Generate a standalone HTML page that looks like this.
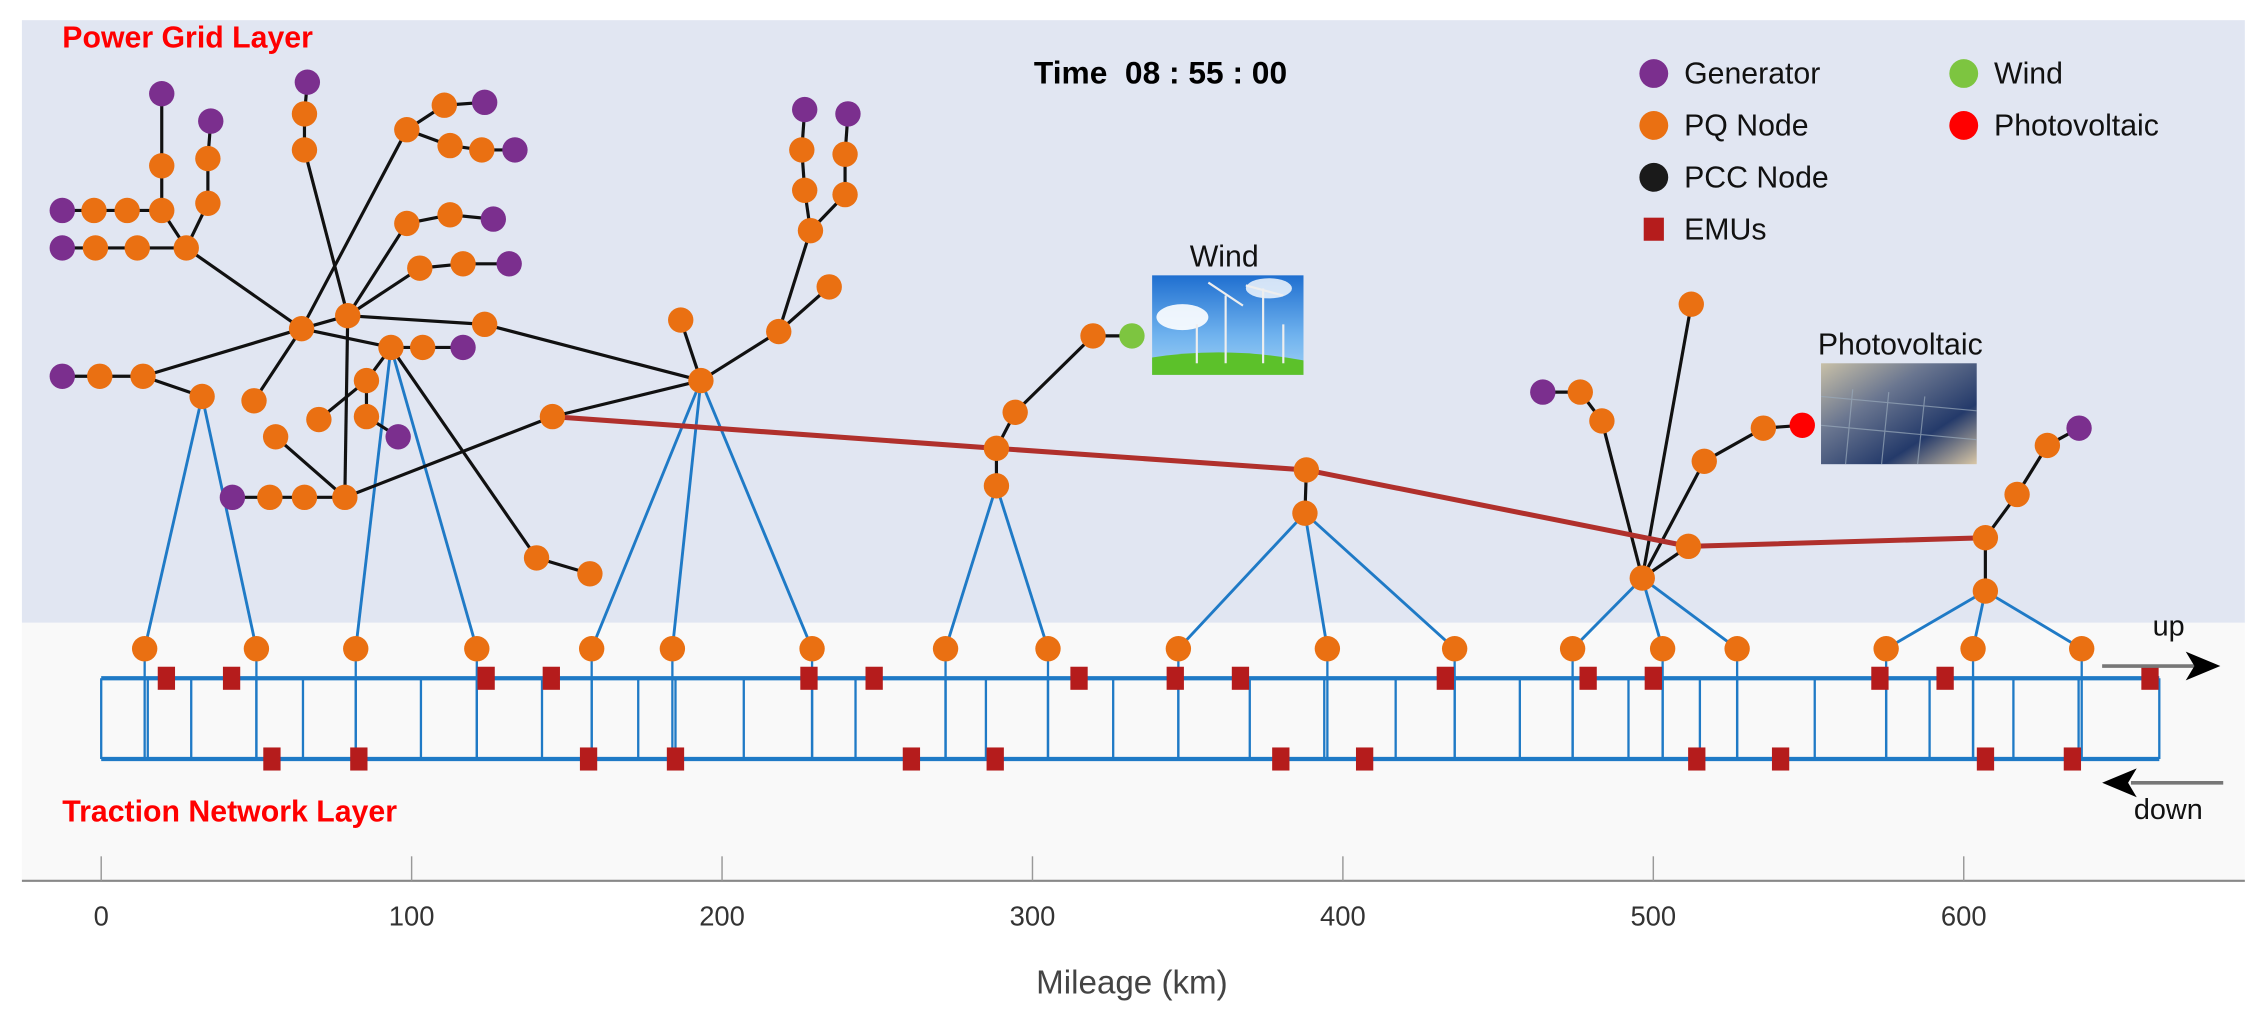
<!DOCTYPE html>
<html><head><meta charset="utf-8"><style>
html,body{margin:0;padding:0;background:#fff;}
svg{display:block;}
text{font-family:"Liberation Sans",sans-serif;}
</style></head><body>
<svg id="chart" width="2261" height="1012" viewBox="0 0 1568 702" xmlns="http://www.w3.org/2000/svg">
<defs>
<linearGradient id="sky" x1="0" y1="0" x2="0" y2="1"><stop offset="0" stop-color="#1f6fd0"/><stop offset="0.6" stop-color="#6fb2ee"/><stop offset="1" stop-color="#9fd0f5"/></linearGradient>
<linearGradient id="pv" x1="0" y1="0" x2="1" y2="1"><stop offset="0" stop-color="#c8c0a8"/><stop offset="0.35" stop-color="#6a7690"/><stop offset="0.7" stop-color="#243a6a"/><stop offset="1" stop-color="#d9c7a6"/></linearGradient>
</defs>
<rect x="15" y="14" width="1542" height="418" fill="#e1e6f2"/>
<rect x="15" y="432" width="1542" height="180" fill="#f9f9f9"/>
<line x1="15" y1="611" x2="1557" y2="611" stroke="#888" stroke-width="1.5"/>
<g id="ticks"></g>
<text x="785" y="689" font-size="23" fill="#444" text-anchor="middle">Mileage (km)</text>
<g id="rails"></g>
<g id="grid"></g>
<g id="emus"></g>
<g>
<rect x="799" y="191" width="105" height="69" fill="url(#sky)"/>
<ellipse cx="820" cy="220" rx="18" ry="9" fill="#fff" opacity="0.9"/><ellipse cx="880" cy="200" rx="16" ry="7" fill="#fff" opacity="0.8"/>
<path d="M799 248 Q850 240 904 250 L904 260 L799 260Z" fill="#5cc12a"/>
<g stroke="#eee" stroke-width="1.5"><line x1="850" y1="205" x2="850" y2="252"/><line x1="876" y1="200" x2="876" y2="252"/><line x1="830" y1="225" x2="830" y2="252"/><line x1="890" y1="225" x2="890" y2="252"/><line x1="838" y1="196" x2="862" y2="212"/><line x1="864" y1="198" x2="890" y2="205"/></g>
</g>
<text x="849" y="185" font-size="21" fill="#111" text-anchor="middle">Wind</text>
<g>
<rect x="1263" y="252" width="108" height="70" fill="url(#pv)"/>
<g stroke="#9ab" stroke-width="0.8" opacity="0.7"><line x1="1263" y1="275" x2="1371" y2="285"/><line x1="1263" y1="295" x2="1371" y2="305"/><line x1="1285" y1="270" x2="1280" y2="322"/><line x1="1310" y1="272" x2="1305" y2="322"/><line x1="1335" y1="275" x2="1330" y2="322"/></g>
</g>
<text x="1318" y="246" font-size="21" fill="#111" text-anchor="middle">Photovoltaic</text>
<text x="43" y="33" font-size="21" font-weight="bold" fill="#f00">Power Grid Layer</text>
<text x="43" y="570" font-size="21" font-weight="bold" fill="#f00">Traction Network Layer</text>
<text x="717" y="58" font-size="22" font-weight="bold" fill="#000" xml:space="preserve">Time  08 : 55 : 00</text>
<g>
<circle cx="1147" cy="51" r="10" fill="#7b2f8e"/>
<text x="1168" y="58" font-size="21" fill="#111">Generator</text>
<circle cx="1147" cy="87" r="10" fill="#ea7012"/>
<text x="1168" y="94" font-size="21" fill="#111">PQ Node</text>
<circle cx="1147" cy="123" r="10" fill="#1a1a1a"/>
<text x="1168" y="130" font-size="21" fill="#111">PCC Node</text>
<rect x="1140" y="151" width="14" height="16" fill="#b51c1c"/>
<text x="1168" y="166" font-size="21" fill="#111">EMUs</text>
<circle cx="1362" cy="51" r="10" fill="#7dc540"/>
<text x="1383" y="58" font-size="21" fill="#111">Wind</text>
<circle cx="1362" cy="87" r="10" fill="#f00"/>
<text x="1383" y="94" font-size="21" fill="#111">Photovoltaic</text>
</g>
<g>
<text x="1493" y="441" font-size="20" fill="#111">up</text>
<line x1="1458" y1="462" x2="1522" y2="462" stroke="#777" stroke-width="2.5"/>
<path d="M1540 462 L1516 452 L1522 462 L1516 472Z" fill="#000"/>
<line x1="1478" y1="543" x2="1542" y2="543" stroke="#777" stroke-width="2.5"/>
<path d="M1458 543 L1482 533 L1476 543 L1482 553Z" fill="#000"/>
<text x="1480" y="568" font-size="20" fill="#111">down</text>
</g>
</svg>
<script>
const tickValues = [0,100,200,300,400,500,600];
const tickLabels = ["0","100","200","300","400","500","600"];
const railEnds = [0, 663];
const sectionKm = [0,15,29,50,65,82,103,121,142,158,173,185,207,229,243,272,285,305,326,347,370,394,417,436,457,474,492,503,515,527,552,575,589,603,616,637,663];
const tractionNodeKm = [14,50,82,121,158,184,229,272,305,347,395,436,474,503,527,575,603,638];
const emuUpKm = [21,42,124,145,228,249,315,346,367,433,479,500,573,594,660];
const emuDownKm = [55,83,157,185,261,288,380,407,514,541,607,635];
const X0=70, PX_PER_KM=(1362-70)/600;
function xs(km){return X0+km*PX_PER_KM;}
const NS="http://www.w3.org/2000/svg";
function mk(parent,tag,attrs){const e=document.createElementNS(NS,tag);for(const k in attrs)e.setAttribute(k,attrs[k]);parent.appendChild(e);return e;}
const tg=document.getElementById('ticks');
tickValues.forEach((v,i)=>{
  const l=mk(tg,'line',{x1:xs(v),x2:xs(v),y1:594,y2:611,stroke:'#999','stroke-width':1});
  
  
  const t=mk(tg,'text',{x:xs(v),y:642,'font-size':19,fill:'#333','text-anchor':'middle'});
  t.textContent=tickLabels[i];
  
  
});
const UP=470.5, DN=526.5;
const rg=document.getElementById('rails');
sectionKm.forEach(k=>{const l=mk(rg,'line',{x1:xs(k),x2:xs(k),y1:UP,y2:DN,stroke:'#1f7ac6','stroke-width':1.6});
  
  });
tractionNodeKm.forEach(k=>{const l=mk(rg,'line',{x1:xs(k),x2:xs(k),y1:450,y2:DN,stroke:'#1f7ac6','stroke-width':1.6});
  
  });
let r1=mk(rg,'line',{x1:xs(railEnds[0]),x2:xs(railEnds[1]),y1:UP,y2:UP,stroke:'#1f7ac6','stroke-width':3});


let r2=mk(rg,'line',{x1:xs(railEnds[0]),x2:xs(railEnds[1]),y1:DN,y2:DN,stroke:'#1f7ac6','stroke-width':3});



const G='#7b2f8e',O='#ea7012',W='#7dc540',R='#f00';
const nodes={
g1:[112,65,G],o1:[112,115,O],o2:[112,146,O],g2:[146,84,G],o3:[144,110,O],o4:[144,141,O],
g3:[43,146,G],o5:[65,146,O],o6:[88,146,O],
g4:[43,172,G],o7:[66,172,O],o8:[95,172,O],o9:[129,172,O],
g5:[213,57,G],o10:[211,79,O],o11:[211,104,O],
A:[209,228,O],B:[241,219,O],
o12:[282,90,O],o13:[308,73,O],g6:[336,71,G],o14:[312,101,O],o15:[334,104,O],g7:[357,104,G],
o16:[282,155,O],o17:[312,149,O],g8:[342,152,G],
o18:[291,186,O],o19:[321,183,O],g9:[353,183,G],
o20:[336,225,O],
H:[271,241,O],o21:[293,241,O],g10:[321,241,G],
g11:[43,261,G],o22:[69,261,O],o23:[99,261,O],T1:[140,275,O],
o24:[176,278,O],o25:[254,264,O],o26:[221,291,O],o27:[254,289,O],g12:[276,303,G],
o28:[191,303,O],
g13:[161,345,G],o29:[187,345,O],o30:[211,345,O],o31:[239,345,O],
o32:[383,289,O],o33:[372,387,O],o34:[409,398,O],
C:[486,264,O],o35:[472,222,O],o36:[540,230,O],o37:[562,160,O],o38:[575,199,O],
o39:[558,132,O],o40:[556,104,O],g14:[558,76,G],o41:[586,135,O],o42:[586,107,O],g15:[588,79,G],
o43:[758,233,O],w1:[785,233,W],o44:[704,286,O],o45:[691,311,O],E:[691,337,O],
o46:[906,326,O],F:[905,356,O],
D:[1139,401,O],o47:[1171,379,O],o48:[1173,211,O],o49:[1111,292,O],o50:[1096,272,O],g16:[1070,272,G],
o51:[1182,320,O],o52:[1223,297,O],p1:[1250,295,R],
o53:[1377,373,O],K:[1377,410,O],o54:[1399,343,O],o55:[1420,309,O],g17:[1442,297,G]
};
const edges=[["g1","o1"],["o1","o2"],["o2","o9"],["g2","o3"],["o3","o4"],["o4","o9"],["g3","o5"],["o5","o6"],["o6","o2"],
["g4","o7"],["o7","o8"],["o8","o9"],["o9","A"],["g5","o10"],["o10","o11"],["o11","B"],
["o12","A"],["o12","o13"],["o13","g6"],["o12","o14"],["o14","o15"],["o15","g7"],
["o16","B"],["o16","o17"],["o17","g8"],["o18","B"],["o18","o19"],["o19","g9"],
["A","B"],["B","o20"],["o20","C"],["A","H"],["H","o21"],["o21","g10"],
["g11","o22"],["o22","o23"],["o23","A"],["o23","T1"],["o24","A"],
["o25","H"],["o26","o25"],["o27","o25"],["o27","g12"],["o28","o31"],
["g13","o29"],["o29","o30"],["o30","o31"],["o31","B"],["o31","o32"],["o32","C"],
["H","o33"],["o33","o34"],["C","o35"],["C","o36"],["o36","o37"],["o36","o38"],
["o37","o39"],["o39","o40"],["o40","g14"],["o37","o41"],["o41","o42"],["o42","g15"],
["o43","w1"],["o43","o44"],["o44","o45"],["o45","E"],["o46","F"],
["D","o47"],["D","o48"],["D","o49"],["o49","o50"],["o50","g16"],["D","o51"],["o51","o52"],["o52","p1"],
["o53","K"],["o53","o54"],["o54","o55"],["o55","g17"]];
const tieLine=["o32","o45","o46","o47","o53"];
const blueLinks=[["T1",0],["T1",1],["H",2],["H",3],["C",4],["C",5],["C",6],["E",7],["E",8],["F",9],["F",10],["F",11],["D",12],["D",13],["D",14],["K",15],["K",16],["K",17]];
const gg=document.getElementById('grid');
blueLinks.forEach(([n,i])=>{const l=mk(gg,'line',{x1:nodes[n][0],y1:nodes[n][1],x2:xs(tractionNodeKm[i]),y2:450,stroke:'#1f7ac6','stroke-width':2});
  
  });
edges.forEach(([a,b])=>{const l=mk(gg,'line',{x1:nodes[a][0],y1:nodes[a][1],x2:nodes[b][0],y2:nodes[b][1],stroke:'#111','stroke-width':2.2});
  
  });
const tl=mk(gg,'polyline',{points:tieLine.map(n=>nodes[n][0]+','+nodes[n][1]).join(' '),fill:'none',stroke:'#b0302c','stroke-width':3.5});


for(const k in nodes){const [x,y,c]=nodes[k];const e=mk(gg,'circle',{cx:x,cy:y,r:8.8,fill:c});
  
  }
tractionNodeKm.forEach(k=>{const e=mk(gg,'circle',{cx:xs(k),cy:450,r:8.8,fill:O});
  
  });
const eg=document.getElementById('emus');
emuUpKm.forEach(k=>{const e=mk(eg,'rect',{x:xs(k)-6,y:UP-8,width:12,height:16,fill:'#b51c1c'});
  
  });
emuDownKm.forEach(k=>{const e=mk(eg,'rect',{x:xs(k)-6,y:DN-8,width:12,height:16,fill:'#b51c1c'});
  
  });
</script>
</body></html>
